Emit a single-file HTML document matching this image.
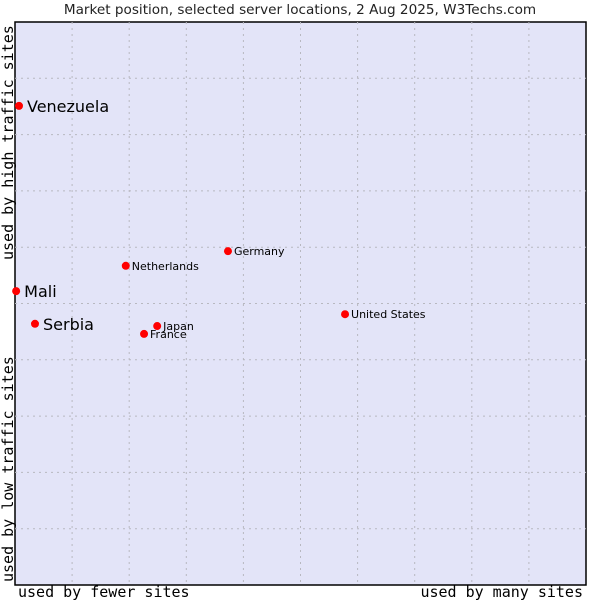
<!DOCTYPE html>
<html><head><meta charset="utf-8"><style>
body{margin:0;background:#fff}
svg{display:block}
</style></head><body>
<svg id="c" width="600" height="600" xmlns="http://www.w3.org/2000/svg">
<text x="300" y="14" text-anchor="middle" font-family="DejaVu Sans, sans-serif" font-size="13.6" fill="#222">Market position, selected server locations, 2 Aug 2025, W3Techs.com</text>
<rect x="15" y="22" width="571" height="563" fill="#e3e4f8" stroke="#000" stroke-width="1.5"/>
<g id="grid"></g>
<g id="pts"></g>
<text x="18" y="597" font-family="DejaVu Sans Mono, monospace" font-size="15" fill="#000">used by fewer sites</text>
<text x="583" y="597" text-anchor="end" font-family="DejaVu Sans Mono, monospace" font-size="15" fill="#000">used by many sites</text>
<text transform="translate(13,260) rotate(-90)" font-family="DejaVu Sans Mono, monospace" font-size="15" fill="#000">used by high traffic sites</text>
<text transform="translate(13,582) rotate(-90)" font-family="DejaVu Sans Mono, monospace" font-size="15" fill="#000">used by low traffic sites</text>
</svg>
<script>
const names=["Venezuela","Mali","Serbia","Netherlands","Germany","United States","Japan","France"];
const xVals=[0.7,0.2,3.5,19.4,37.3,57.8,24.9,22.6];
const yVals=[85.1,52.2,46.4,56.7,59.3,48.1,46.0,44.6];
const highlighted=[true,true,true,false,false,false,false,false];
const X0=15,W=571,Y0=585,H=563;
const sx=v=>X0+v/100*W, sy=v=>Y0-v/100*H;
const NS="http://www.w3.org/2000/svg";
const grid=document.getElementById('grid');
for(let i=1;i<10;i++){
  const v=document.createElementNS(NS,'line');
  
  
  v.setAttribute('x1',sx(i*10));v.setAttribute('x2',sx(i*10));v.setAttribute('y1',22);v.setAttribute('y2',585);
  v.setAttribute('stroke','#b8b8c0');v.setAttribute('stroke-dasharray','2,4');grid.appendChild(v);
  const h=document.createElementNS(NS,'line');
  
  
  h.setAttribute('x1',15);h.setAttribute('x2',586);h.setAttribute('y1',sy(i*10));h.setAttribute('y2',sy(i*10));
  h.setAttribute('stroke','#b8b8c0');h.setAttribute('stroke-dasharray','2,4');grid.appendChild(h);
}
const pts=document.getElementById('pts');
names.forEach((n,i)=>{
  const x=sx(xVals[i]),y=sy(yVals[i]);
  const c=document.createElementNS(NS,'circle');
  
  
  c.setAttribute('cx',x);c.setAttribute('cy',y);c.setAttribute('r',4);c.setAttribute('fill','#f00');
  pts.appendChild(c);
  const t=document.createElementNS(NS,'text');
  
  
  const big=highlighted[i];
  t.setAttribute('x',x+(big?8:6));t.setAttribute('y',y+(big?6:4));
  t.setAttribute('font-family','DejaVu Sans, sans-serif');
  t.setAttribute('font-size',big?16:11);t.setAttribute('fill','#000');
  t.textContent=n;pts.appendChild(t);
});
</script>
</body></html>
